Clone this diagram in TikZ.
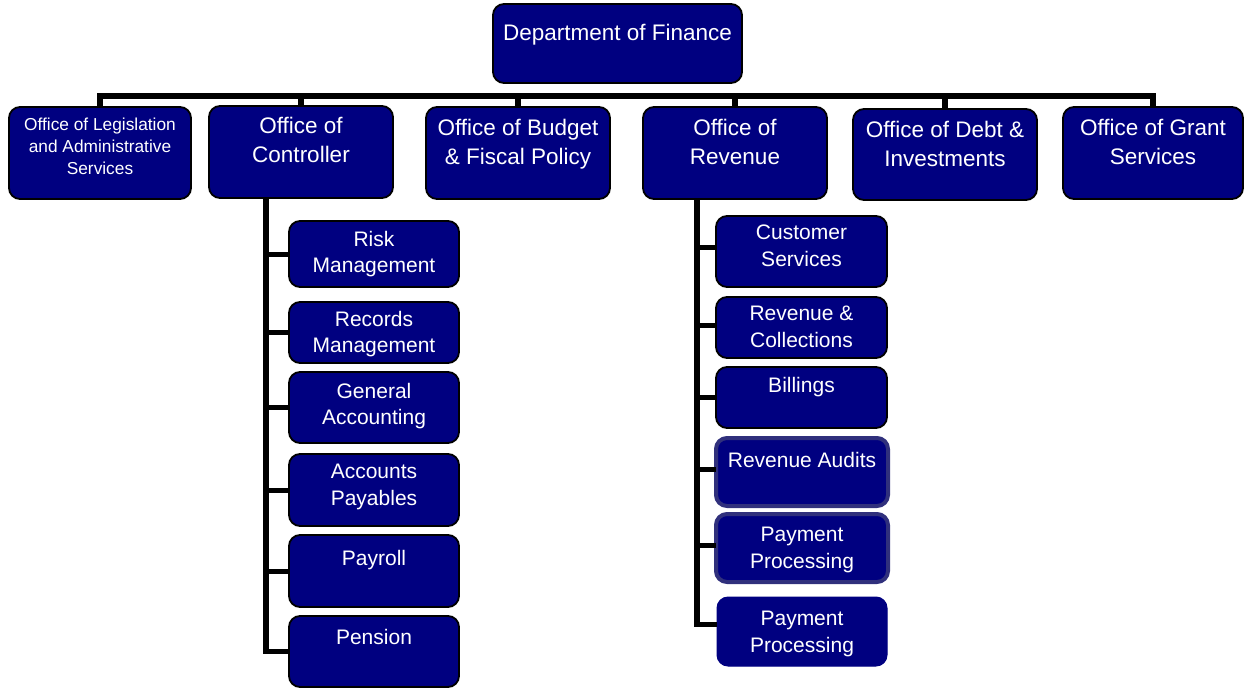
\documentclass[tikz,border=0pt]{standalone}
\usepackage{fontspec}
\setmainfont{Liberation Sans}
\usetikzlibrary{calc}
\definecolor{boxfill}{RGB}{0,0,128}
\definecolor{hlborder}{RGB}{48,48,124}
\tikzset{
  box/.style={draw=black, line width=1.8pt, fill=boxfill, rounded corners=11pt, inner sep=0pt, outer sep=0pt},
  hlbox/.style={draw=hlborder, line width=4pt},
  plainbox/.style={draw=boxfill, line width=1pt},
  txt/.style={text=white, align=center, inner sep=0pt, font=\fontsize{22.5}{28.5}\selectfont},
  subtxt/.style={txt, font=\fontsize{21}{26.5}\selectfont},
  smalltxt/.style={txt, font=\fontsize{17.3}{21.8}\selectfont},
  conn/.style={draw=black, line width=5.5pt},
  branch/.style={draw=black, line width=5pt},
}
% #1 box style, #2 name, #3 x1, #4 y1, #5 x2, #6 y2, #7 text offset, #8 text style, #9 text
\newcommand\obox[9][]{%
  \node[box,#1,minimum width={(#5-#3)*1pt},minimum height={(#6-#4)*1pt}] (#2) at ({(#3+#5)/2},{(#4+#6)/2}) {};
  \node[#8,anchor=north] (#2-t) at ($(#2.north)+(0,#7)$) {#9};
}
\begin{document}
\begin{tikzpicture}[x=1pt,y=-1pt]
\useasboundingbox (0,0) rectangle (1245,688);
\coordinate (bar) at (0,96);
\coordinate (cspine) at (266,0);
\coordinate (rspine) at (697,0);

% top
\obox{dept}{493}{4}{742}{83}{20}{txt}{Department of Finance}

% level 1
\obox{leg}{9}{107}{191}{199}{11}{smalltxt}{Office of Legislation\\and Administrative\\Services}
\obox{ctrl}{209}{106}{393}{198}{11}{txt}{Office of\\Controller}
\obox{budget}{426}{107}{610}{199}{12}{txt}{Office of Budget\\\& Fiscal Policy}
\obox{rev}{643}{107}{827}{199}{12}{txt}{Office of\\Revenue}
\obox{debt}{853}{109}{1037}{200}{12}{txt}{Office of Debt \&\\Investments}
\obox{grant}{1063}{107}{1243}{199}{12}{txt}{Office of Grant\\Services}

% controller children
\obox{risk}{289}{221}{459}{287}{10}{subtxt}{Risk\\Management}
\obox{records}{289}{302}{459}{363}{9}{subtxt}{Records\\Management}
\obox{general}{289}{372}{459}{443}{11}{subtxt}{General\\Accounting}
\obox{payables}{289}{454}{459}{526}{10}{subtxt}{Accounts\\Payables}
\obox{payroll}{289}{535}{459}{607}{15}{subtxt}{Payroll}
\obox{pension}{289}{616}{459}{687}{13}{subtxt}{Pension}

% revenue children
\obox{customer}{716}{216}{887}{287}{9}{subtxt}{Customer\\Services}
\obox{collect}{716}{297}{887}{358}{9}{subtxt}{Revenue \&\\Collections}
\obox{billings}{716}{367}{887}{428}{10}{subtxt}{Billings}
\obox[hlbox]{audits}{716}{438}{888}{506}{14}{subtxt}{Revenue Audits}
\obox[hlbox]{payproc}{716}{514}{888}{582}{13}{subtxt}{Payment\\Processing}
\obox[plainbox]{payproc2}{717}{597}{887}{666}{14}{subtxt}{Payment\\Processing}

% top bar and drops
\draw[conn] (leg.north) -- (leg.north |- bar) -- (grant.north |- bar) -- (grant.north);
\draw[conn] (ctrl.north) -- (ctrl.north |- bar);
\draw[conn] (budget.north) -- (budget.north |- bar);
\draw[conn] (rev.north) -- (rev.north |- bar);
\draw[conn] (debt.north) -- (debt.north |- bar);

% controller spine
\draw[conn] (ctrl.south -| cspine) -- (cspine |- pension.west) -- (pension.west);
\foreach \n in {risk,records,general,payables,payroll}
  \draw[branch] (cspine |- \n.west) -- (\n.west);

% revenue spine
\draw[conn] (rev.south -| rspine) -- ($(rspine |- payproc2.west)+(0,-7)$) -- ($(payproc2.west)+(0,-7)$);
\draw[branch] ($(rspine |- customer.west)+(0,-4)$) -- ($(customer.west)+(0,-4)$);
\draw[branch] ($(rspine |- collect.west)+(0,-2)$) -- ($(collect.west)+(0,-2)$);
\draw[branch] (rspine |- billings.west) -- (billings.west);
\draw[branch] ($(rspine |- audits.west)+(0,-3)$) -- ($(audits.west)+(0,-3)$);
\draw[branch] ($(rspine |- payproc.west)+(0,-3)$) -- ($(payproc.west)+(0,-3)$);
\end{tikzpicture}
\end{document}
